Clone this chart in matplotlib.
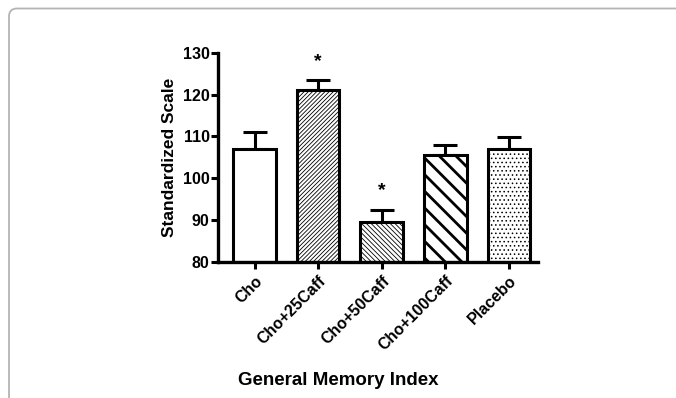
import matplotlib
matplotlib.use("Agg")
import matplotlib.pyplot as plt
from matplotlib.patches import FancyBboxPatch
from matplotlib.transforms import IdentityTransform

groups = ["Cho", "Cho+25Caff", "Cho+50Caff", "Cho+100Caff", "Placebo"]
means = [107.1, 121.0, 89.5, 105.5, 107.0]
errors = [4.0, 2.4, 3.0, 2.4, 2.8]
hatches = ["", "////////", "\\\\\\\\\\\\\\", "\\\\", "...."]
hatch_colors = ["black", "#4a4a4a", "#4a4a4a", "black", "#8a8a8a"]
hatch_widths = [1.0, 0.6, 0.6, 2.0, 0.6]
star_groups = [1, 2]

plt.rcParams["font.family"] = ["Liberation Sans", "DejaVu Sans"]
plt.rcParams["font.weight"] = "bold"

fig = plt.figure(figsize=(6.76, 3.98), dpi=100)
ax = fig.add_axes([0.3225, 0.3417, 0.796 - 0.3225, 0.8676 - 0.3417])

# rounded grey frame round the figure (top-left corner visible)
frame = FancyBboxPatch((9, -60), 800, 398 - 8.5 + 60,
                       boxstyle="round,pad=0,rounding_size=8",
                       transform=IdentityTransform(), fill=False,
                       edgecolor="#b4b4b4", linewidth=1.3)
fig.patches.append(frame)

x = list(range(len(groups)))
for i in x:
    with plt.rc_context({"hatch.linewidth": hatch_widths[i],
                         "hatch.color": hatch_colors[i]}):
        b = ax.bar(i, means[i] - 80, bottom=80, width=0.67, color="white",
                   edgecolor="black", linewidth=2.2, hatch=hatches[i], zorder=2)
    for p in b:
        if hasattr(p, "set_hatch_linewidth"):
            p.set_hatch_linewidth(hatch_widths[i])
        p._hatch_color = matplotlib.colors.to_rgba(hatch_colors[i])
        p.set_edgecolor("black")

ax.errorbar(x, means, yerr=[[0] * len(means), errors], fmt="none",
            ecolor="black", elinewidth=2.2, capsize=8.5, capthick=2.2, zorder=1)

for i in star_groups:
    ax.text(i, means[i] + errors[i] + 4.5, "*", ha="center", va="center",
            fontsize=14, fontweight="bold")

ax.set_xlim(-0.575, 4.46)
ax.set_ylim(80, 130)
ax.set_yticks([80, 90, 100, 110, 120, 130])
ax.set_xticks(x)
ax.set_xticklabels(groups, rotation=45, ha="right", rotation_mode="anchor",
                   fontsize=11.5, fontweight="bold")
ax.tick_params(axis="y", labelsize=11.5, width=2.2, length=5, pad=1)
ax.tick_params(axis="x", width=2.2, length=5, pad=3)

for s in ["top", "right"]:
    ax.spines[s].set_visible(False)
for s in ["left", "bottom"]:
    ax.spines[s].set_linewidth(2.4)

ax.set_ylabel("Standardized Scale", fontsize=12.5, fontweight="bold", labelpad=4)
fig.text(0.5, 0.045, "General Memory Index", ha="center", va="center",
         fontsize=13.5, fontweight="bold")

fig.savefig("out.png", dpi=100)
